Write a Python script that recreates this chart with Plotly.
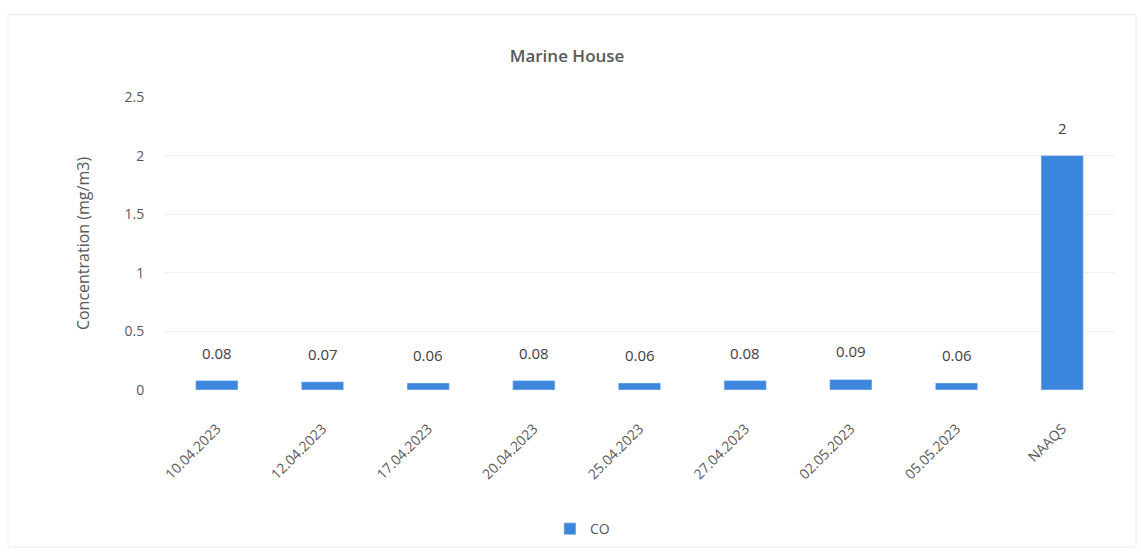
import plotly.graph_objects as go

# CO concentrations at Marine House, with the NAAQS limit for comparison
dates = ["10.04.2023", "12.04.2023", "17.04.2023", "20.04.2023", "25.04.2023",
         "27.04.2023", "02.05.2023", "05.05.2023", "NAAQS"]
co_values = [0.08, 0.07, 0.06, 0.08, 0.06, 0.08, 0.09, 0.06, 2]
y_ticks = [0, 0.5, 1, 1.5, 2, 2.5]

font_family = "Open Sans, Liberation Sans, sans-serif"
text_grey = "#595959"
bar_blue = "#3D86DE"

fig = go.Figure(
    go.Bar(
        x=dates,
        y=co_values,
        name="CO",
        marker=dict(color=bar_blue),
        width=0.4,
        hoverinfo="x+y",
    )
)

# value labels above each bar
for d, v in zip(dates, co_values):
    fig.add_annotation(
        x=d, y=v, text=f"{v:g}", showarrow=False,
        yanchor="bottom", yshift=16,
        font=dict(family=font_family, size=15, color="#404040"),
    )

# faint frame around the whole chart
fig.add_shape(
    type="rect", xref="paper", yref="paper",
    x0=-0.164, x1=1.022, y0=-0.536, y1=1.281,
    line=dict(color="#ececec", width=1),
    layer="below",
)

fig.update_layout(
    width=1141,
    height=557,
    margin=dict(l=164, r=26, t=97, b=165),
    paper_bgcolor="white",
    plot_bgcolor="white",
    title=dict(
        text="Marine House",
        x=0.497, xanchor="center",
        y=0.9, yanchor="middle",
        font=dict(family=font_family, size=17, color=text_grey, weight=600),
    ),
    showlegend=True,
    legend=dict(
        orientation="h",
        x=0.44, xanchor="center",
        y=-0.475, yanchor="middle",
        font=dict(family=font_family, size=14, color=text_grey),
        itemwidth=30,
    ),
    bargap=0.6,
)

fig.update_xaxes(
    type="category",
    tickangle=-45,
    tickfont=dict(family=font_family, size=14, color=text_grey),
    showgrid=False,
    showline=False,
    ticks="outside",
    ticklen=24,
    tickcolor="rgba(0,0,0,0)",
)

fig.update_yaxes(
    range=[0, 2.5],
    tickvals=y_ticks,
    ticktext=[f"{t:g}" for t in y_ticks],
    tickfont=dict(family=font_family, size=14, color=text_grey),
    showgrid=True,
    gridcolor="#f0f0f0",
    zeroline=False,
    ticks="outside",
    ticklen=16,
    tickcolor="rgba(0,0,0,0)",
    title=dict(
        text="Concentration (mg/m3)",
        font=dict(family=font_family, size=16, color=text_grey),
        standoff=30,
    ),
)

fig.write_html("out.html")
